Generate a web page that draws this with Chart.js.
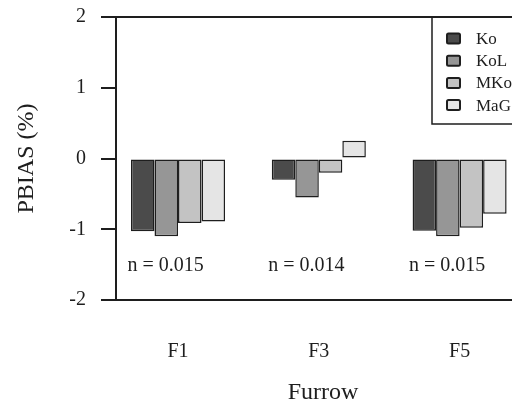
<!DOCTYPE html>
<html>
<head>
<meta charset="utf-8">
<script src="https://cdn.jsdelivr.net/npm/chart.js@4/dist/chart.umd.min.js"></script>
<style>
  html, body { margin: 0; padding: 0; background: #fff; overflow: hidden; width: 512px; height: 404px; }
  canvas { display: block; }
</style>
</head>
<body>
<canvas id="c" width="560" height="404"></canvas>
<script>
// Furrows and PBIAS (%) of each infiltration model
const furrows = ['F1', 'F3', 'F5'];
const models = ['Ko', 'KoL', 'MKo', 'MaG'];
const pbiasKo  = [-1.03, -0.30, -1.02];
const pbiasKoL = [-1.10, -0.55, -1.10];
const pbiasMKo = [-0.91, -0.20, -0.98];
const pbiasMaG = [-0.89,  0.25, -0.78];
const manningN = [0.015, 0.014, 0.015];
const yTicks = [-2, -1, 0, 1, 2];

const fills = ['#4b4b4b', '#969696', '#c3c3c3', '#e5e5e5'];
const ink = '#1e1e1e';
const serif = "'Liberation Serif', 'Times New Roman', serif";

// furrow number is used as the x position (F1 -> 1, F3 -> 3, F5 -> 5)
const furrowNo = furrows.map(f => Number(f.slice(1)));
const series = [pbiasKo, pbiasKoL, pbiasMKo, pbiasMaG];

const datasets = models.map((m, i) => ({
  label: m,
  data: series[i].map((v, j) => ({ x: furrowNo[j], y: v })),
  backgroundColor: fills[i],
  borderColor: ink,
  borderWidth: 1.5,
  borderSkipped: false,
  categoryPercentage: 0.668,
  barPercentage: 1.0
}));

// "n = ..." note under each furrow group
const nLabels = {
  id: 'nLabels',
  afterDatasetsDraw(chart) {
    const { ctx, scales: { x, y } } = chart;
    ctx.save();
    ctx.fillStyle = ink;
    ctx.font = '20px ' + serif;
    ctx.textAlign = 'center';
    ctx.textBaseline = 'middle';
    manningN.forEach((n, i) => {
      ctx.fillText('n = ' + n.toFixed(3), x.getPixelForValue(furrowNo[i]) - 12.5, y.getPixelForValue(-1.52));
    });
    ctx.restore();
  }
};

// framed legend in the upper right corner of the plot
const boxLegend = {
  id: 'boxLegend',
  afterDraw(chart) {
    const { ctx, chartArea } = chart;
    const left = 432, top = chartArea.top, bottom = 124;
    ctx.save();
    ctx.strokeStyle = ink;
    ctx.lineWidth = 1.5;
    ctx.beginPath();
    ctx.moveTo(chartArea.right, bottom);
    ctx.lineTo(left, bottom);
    ctx.lineTo(left, top);
    ctx.stroke();
    ctx.font = '17px ' + serif;
    ctx.textBaseline = 'middle';
    ctx.textAlign = 'left';
    chart.data.datasets.forEach((ds, i) => {
      const cy = 38.5 + i * 22.2;
      ctx.fillStyle = ds.backgroundColor;
      ctx.lineWidth = 2;
      ctx.strokeStyle = ink;
      ctx.beginPath();
      ctx.roundRect(447, cy - 5, 13, 10, 1.5);
      ctx.fill();
      ctx.stroke();
      ctx.fillStyle = ink;
      ctx.fillText(ds.label, 476, cy + 1);
    });
    ctx.restore();
  }
};

new Chart(document.getElementById('c'), {
  type: 'bar',
  data: { datasets },
  plugins: [nLabels, boxLegend],
  options: {
    responsive: false,
    animation: false,
    layout: { padding: { top: 17, right: 30, left: 0, bottom: 0 } },
    plugins: { legend: { display: false }, tooltip: { enabled: false } },
    scales: {
      x: {
        type: 'linear',
        offset: false,
        min: 0.119,
        max: 6,
        afterFit(axis) { axis.height = 104; axis.paddingLeft = 0; axis.paddingRight = 0; },
        afterBuildTicks(axis) { axis.ticks = furrowNo.map(v => ({ value: v })); },
        grid: { display: false },
        border: { display: true, color: ink, width: 2 },
        ticks: {
          padding: 32,
          color: ink,
          font: { family: serif, size: 20 },
          callback: (v) => furrows[furrowNo.indexOf(v)]
        },
        title: {
          display: true,
          text: 'Furrow',
          color: ink,
          font: { family: serif, size: 24 },
          padding: { top: 0, bottom: -3 }
        }
      },
      y: {
        min: -2,
        max: 2,
        afterFit(axis) { axis.width = 116; axis.paddingTop = 0; axis.paddingBottom = 0; },
        afterBuildTicks(axis) { axis.ticks = yTicks.map(v => ({ value: v })); },
        grid: {
          drawOnChartArea: true,
          color: (c) => (c.tick && Math.abs(c.tick.value) === 2 ? ink : 'rgba(0,0,0,0)'),
          tickColor: ink,
          lineWidth: 2,
          tickWidth: 2,
          tickLength: 15
        },
        border: { display: true, color: ink, width: 2 },
        ticks: {
          padding: 15,
          color: ink,
          font: { family: serif, size: 20 }
        },
        title: {
          display: true,
          text: 'PBIAS (%)',
          color: ink,
          font: { family: serif, size: 24 },
          padding: { top: 12, bottom: 0 }
        }
      }
    }
  }
});
</script>
</body>
</html>
